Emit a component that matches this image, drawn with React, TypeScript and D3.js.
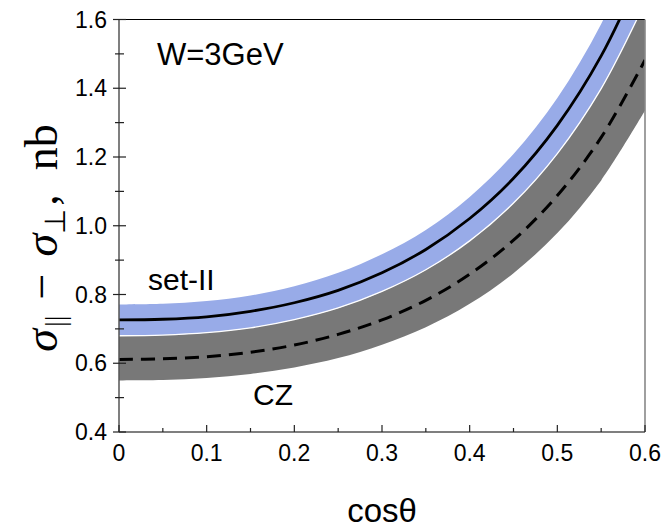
import { useEffect, useRef } from 'react'
import * as d3 from 'd3'

// values, x = cos(theta)
const cosTheta = [0, 0.05, 0.1, 0.15, 0.2, 0.25, 0.3, 0.35, 0.4, 0.45, 0.5, 0.55, 0.6]
const setIIUpper = [0.771, 0.773, 0.781, 0.797, 0.824, 0.863, 0.917, 0.988, 1.084, 1.209, 1.372, 1.587, 1.871]
const setIICentral = [0.726, 0.728, 0.735, 0.751, 0.776, 0.812, 0.863, 0.931, 1.021, 1.138, 1.292, 1.494, 1.762]
const setIILower = [0.68, 0.682, 0.689, 0.703, 0.727, 0.761, 0.809, 0.872, 0.956, 1.066, 1.21, 1.399, 1.65]
const czUpper = [0.68, 0.682, 0.689, 0.703, 0.727, 0.761, 0.809, 0.872, 0.956, 1.066, 1.21, 1.399, 1.65]
const czCentral = [0.611, 0.613, 0.619, 0.632, 0.653, 0.684, 0.726, 0.783, 0.859, 0.958, 1.088, 1.257, 1.482]
const czLower = [0.55, 0.551, 0.557, 0.569, 0.588, 0.615, 0.654, 0.705, 0.773, 0.862, 0.979, 1.132, 1.335]

const xTicks = [0, 0.1, 0.2, 0.3, 0.4, 0.5, 0.6]
const xMinor = [0.05, 0.15, 0.25, 0.35, 0.45, 0.55]
const yTicks = [0.4, 0.6, 0.8, 1.0, 1.2, 1.4, 1.6]
const yMinor = [0.5, 0.7, 0.9, 1.1, 1.3, 1.5]

const App = () => {
  const svgRef = useRef<SVGSVGElement>(null)

  useEffect(() => {
    const W = 668
    const H = 529
    const left = 119, right = 645, top = 19.5, bottom = 432
    const font = 'Liberation Sans, Arial, Helvetica, sans-serif'

    const root = d3.select(svgRef.current)
    root.selectAll('*').remove()
    root.attr('width', W).attr('height', H)

    const x = d3.scaleLinear().domain([0, 0.6]).range([left, right])
    const y = d3.scaleLinear().domain([0.4, 1.6]).range([bottom, top])

    root.append('defs').append('clipPath').attr('id', 'plot-clip')
      .append('rect').attr('x', left).attr('y', top)
      .attr('width', right - left).attr('height', bottom - top)

    const g = root.append('g').attr('clip-path', 'url(#plot-clip)')

    const idx = d3.range(cosTheta.length)
    const band = (lo: number[], hi: number[]) => d3.area<number>()
      .x(i => x(cosTheta[i]))
      .y0(i => y(lo[i]))
      .y1(i => y(hi[i]))
      .curve(d3.curveCatmullRom)(idx)
    const line = (v: number[]) => d3.line<number>()
      .x(i => x(cosTheta[i]))
      .y(i => y(v[i]))
      .curve(d3.curveCatmullRom)(idx)

    g.append('path').attr('d', band(czLower, czUpper)).attr('fill', '#787878')
    g.append('path').attr('d', band(setIILower, setIIUpper)).attr('fill', '#98abe8')
    g.append('path').attr('d', line(setIILower)).attr('fill', 'none')
      .attr('stroke', '#fff').attr('stroke-width', 1.3)
    g.append('path').attr('d', line(setIICentral)).attr('fill', 'none')
      .attr('stroke', '#000').attr('stroke-width', 2.8)
    g.append('path').attr('d', line(czCentral)).attr('fill', 'none')
      .attr('stroke', '#000').attr('stroke-width', 3)
      .attr('stroke-dasharray', '14,8')

    // frame
    root.append('line').attr('x1', left).attr('x2', right).attr('y1', top).attr('y2', top)
      .attr('stroke', '#000').attr('stroke-width', 1)
    root.append('line').attr('x1', right).attr('x2', right).attr('y1', top).attr('y2', bottom)
      .attr('stroke', '#888').attr('stroke-width', 1.6)
    root.append('line').attr('x1', left).attr('x2', left).attr('y1', top).attr('y2', bottom)
      .attr('stroke', '#555').attr('stroke-width', 1.5)
    root.append('line').attr('x1', left).attr('x2', right).attr('y1', bottom).attr('y2', bottom)
      .attr('stroke', '#555').attr('stroke-width', 1.5)

    // y ticks cross the axis
    root.selectAll('.ymaj').data(yTicks).enter().append('line')
      .attr('x1', left - 6).attr('x2', left + 7)
      .attr('y1', d => y(d)).attr('y2', d => y(d))
      .attr('stroke', '#222').attr('stroke-width', 1.2)
    root.selectAll('.ymin').data(yMinor).enter().append('line')
      .attr('x1', left - 4).attr('x2', left + 5)
      .attr('y1', d => y(d)).attr('y2', d => y(d))
      .attr('stroke', '#222').attr('stroke-width', 1.2)
    root.selectAll('.ylab').data(yTicks).enter().append('text')
      .attr('x', left - 12).attr('y', d => y(d) + 8)
      .attr('text-anchor', 'end').attr('font-family', font).attr('font-size', 23)
      .attr('fill', '#000').text(d => d.toFixed(1))

    // x ticks point inwards
    root.selectAll('.xmaj').data(xTicks).enter().append('line')
      .attr('x1', d => x(d)).attr('x2', d => x(d))
      .attr('y1', bottom).attr('y2', bottom - 7)
      .attr('stroke', '#222').attr('stroke-width', 1.2)
    root.selectAll('.xmin').data(xMinor).enter().append('line')
      .attr('x1', d => x(d)).attr('x2', d => x(d))
      .attr('y1', bottom).attr('y2', bottom - 4)
      .attr('stroke', '#222').attr('stroke-width', 1.2)
    root.selectAll('.xlab').data(xTicks).enter().append('text')
      .attr('x', d => x(d)).attr('y', bottom + 29)
      .attr('text-anchor', 'middle').attr('font-family', font).attr('font-size', 23)
      .attr('fill', '#000').text(d => (d === 0 ? '0' : d.toFixed(1)))

    root.append('text')
      .attr('x', (left + right) / 2).attr('y', 522)
      .attr('text-anchor', 'middle').attr('font-family', font).attr('font-size', 33)
      .text('cosθ')

    // y title, rotated
    const yt = root.append('text')
      .attr('transform', 'translate(57,238) rotate(-90)')
      .attr('text-anchor', 'middle')
      .attr('font-family', 'Liberation Serif, Times New Roman, serif').attr('font-size', 46)
    yt.append('tspan').attr('font-style', 'italic').text('σ')
    yt.append('tspan').attr('font-size', 29).attr('dy', 8).attr('dx', 2).text('||')
    yt.append('tspan').attr('dy', -8).attr('dx', 16).text('−')
    yt.append('tspan').attr('font-style', 'italic').attr('dx', 17).text('σ')
    yt.append('tspan').attr('font-size', 29).attr('dy', 8).text('⊥')
    yt.append('tspan').attr('dy', -8).attr('dx', 3).text(',')
    yt.append('tspan').attr('dx', 24).text('nb')

    root.append('text').attr('x', 157).attr('y', 65)
      .attr('font-family', font).attr('font-size', 31).text('W=3GeV')
    root.append('text').attr('x', 148).attr('y', 290)
      .attr('font-family', font).attr('font-size', 30).text('set-II')
    root.append('text').attr('x', 253).attr('y', 405)
      .attr('font-family', font).attr('font-size', 30).text('CZ')
  }, [])

  return <svg ref={svgRef} style={{ position: 'absolute', left: 0, top: 0 }}></svg>
}

export default App
